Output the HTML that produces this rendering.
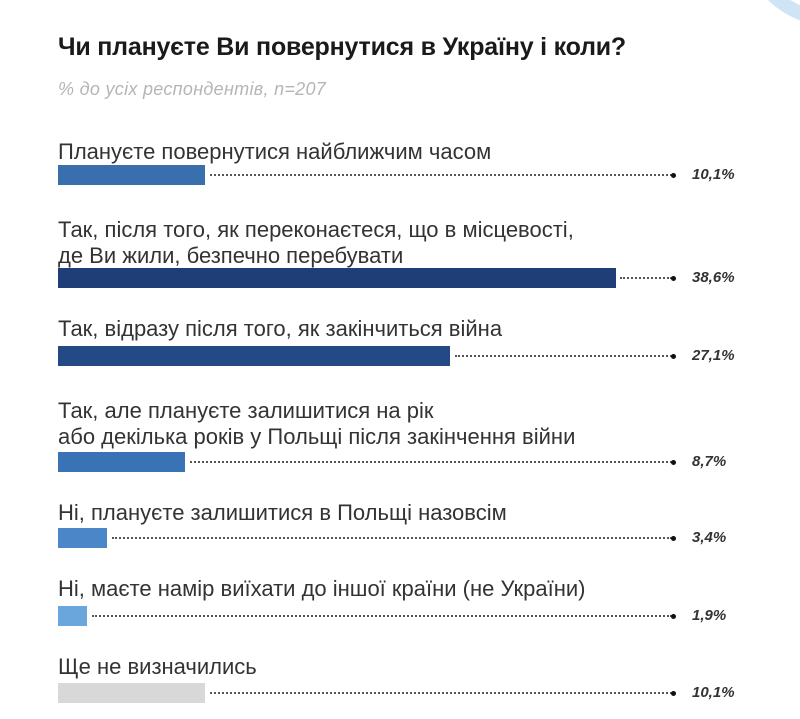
<!DOCTYPE html>
<html><head><meta charset="utf-8"><style>
body{margin:0;width:800px;height:719px;background:#fff;position:relative;overflow:hidden;font-family:"Liberation Sans",sans-serif;color:#2a2a2a}
.a{position:absolute;white-space:nowrap}
.t{left:58px;top:33px;font-size:25px;font-weight:bold;color:#1a1a1a;letter-spacing:-0.2px}
.s{left:58px;top:79px;font-size:18px;font-style:italic;color:#b5b5b5;letter-spacing:0.3px}
.l{left:58px;font-size:22px;line-height:26px;color:#333;letter-spacing:0px}
.b{left:58px;height:20px}
.d{height:0;border-top:2px dotted #555}
.p{width:5px;height:5px;border-radius:50%;background:#111;left:671px}
.v{left:692px;font-size:15px;font-weight:bold;font-style:italic;color:#333}
</style></head><body>
<svg class="a" style="left:740px;top:-40px" width="80" height="70"><circle cx="95" cy="-30" r="90" fill="none" stroke="#cfe5f5" stroke-width="14"/></svg>
<div class="a t">Чи плануєте Ви повернутися в Україну і коли?</div>
<div class="a s">% до усіх респондентів, n=207</div>

<div class="a l" style="top:139px">Плануєте повернутися найближчим часом</div>
<div class="a b" style="top:165px;width:147px;background:#3a6fae"></div>
<div class="a d" style="top:174px;left:210px;width:462px"></div>
<div class="a p" style="top:173px"></div>
<div class="a v" style="top:166px">10,1%</div>

<div class="a l" style="top:217px">Так, після того, як переконаєтеся, що в місцевості,<br>де Ви жили, безпечно перебувати</div>
<div class="a b" style="top:268px;width:558px;background:#1f3e78"></div>
<div class="a d" style="top:277px;left:620px;width:52px"></div>
<div class="a p" style="top:276px"></div>
<div class="a v" style="top:269px">38,6%</div>

<div class="a l" style="top:316px">Так, відразу після того, як закінчиться війна</div>
<div class="a b" style="top:346px;width:392px;background:#244a86"></div>
<div class="a d" style="top:355px;left:455px;width:217px"></div>
<div class="a p" style="top:354px"></div>
<div class="a v" style="top:347px">27,1%</div>

<div class="a l" style="top:398px">Так, але плануєте залишитися на рік<br>або декілька років у Польщі після закінчення війни</div>
<div class="a b" style="top:452px;width:127px;background:#3a73b5"></div>
<div class="a d" style="top:461px;left:190px;width:482px"></div>
<div class="a p" style="top:460px"></div>
<div class="a v" style="top:453px">8,7%</div>

<div class="a l" style="top:500px">Ні, плануєте залишитися в Польщі назовсім</div>
<div class="a b" style="top:528px;width:49px;background:#4a86c8"></div>
<div class="a d" style="top:537px;left:112px;width:560px"></div>
<div class="a p" style="top:536px"></div>
<div class="a v" style="top:529px">3,4%</div>

<div class="a l" style="top:576px">Ні, маєте намір виїхати до іншої країни (не України)</div>
<div class="a b" style="top:606px;width:29px;background:#6aa6dc"></div>
<div class="a d" style="top:615px;left:92px;width:580px"></div>
<div class="a p" style="top:614px"></div>
<div class="a v" style="top:607px">1,9%</div>

<div class="a l" style="top:654px">Ще не визначились</div>
<div class="a b" style="top:683px;width:147px;background:#d8d8d8"></div>
<div class="a d" style="top:692px;left:210px;width:462px"></div>
<div class="a p" style="top:691px"></div>
<div class="a v" style="top:684px">10,1%</div>
</body></html>
